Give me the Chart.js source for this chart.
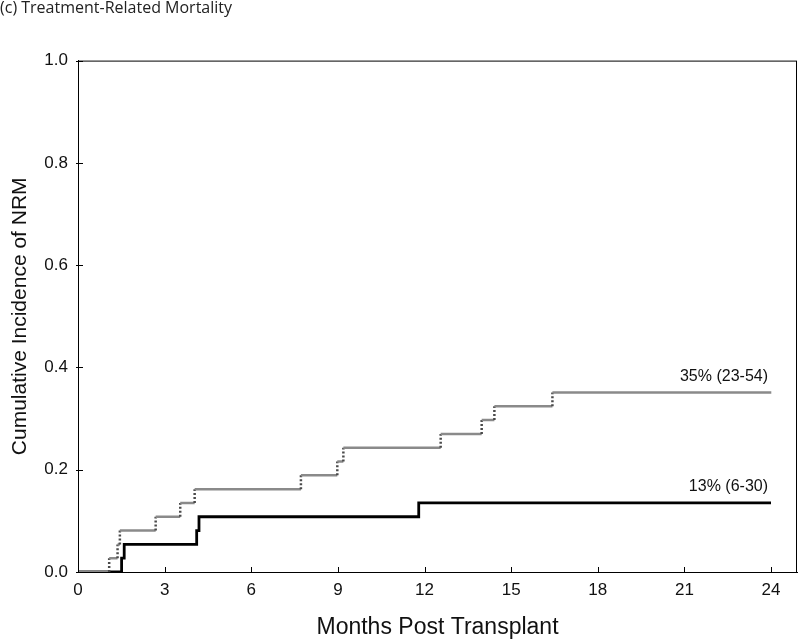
<!DOCTYPE html>
<html lang="en">
<head>
  <meta charset="UTF-8">
  <title>Treatment-Related Mortality</title>
  <script src="https://cdn.jsdelivr.net/npm/chart.js"></script>
  <style>
    body { margin: 0; background: #fff; }
    .chart-container { position: relative; width: 800px; height: 641px; }
  </style>
</head>
<body>
  <div class="chart-container">
    <canvas id="nrmChart"></canvas>
  </div>

  <script>
    // event times (months) and cumulative incidence after each event
    const grayTimes  = [0, 1.08, 1.37, 1.45, 2.69, 3.54, 4.04, 7.72, 8.98, 9.19, 12.56, 13.98, 14.42, 16.43, 24];
    const grayValues = [0, 0.027, 0.054, 0.081, 0.108, 0.135, 0.162, 0.189, 0.216, 0.243, 0.270, 0.297, 0.324, 0.351, 0.351];
    const blackTimes  = [0, 1.51, 1.6, 4.11, 4.19, 11.8, 24];
    const blackValues = [0, 0.027, 0.054, 0.081, 0.108, 0.135, 0.135];
    const endLabels = ['35% (23-54)', '13% (6-30)'];
    const xTicks = [0, 3, 6, 9, 12, 15, 18, 21, 24];
    const yTicks = [0, 0.2, 0.4, 0.6, 0.8, 1.0];

    // turn event lists into step-function points
    function toSteps(times, values) {
      const pts = [{ x: times[0], y: values[0] }];
      for (let i = 1; i < times.length; i++) {
        pts.push({ x: times[i], y: values[i - 1] });
        pts.push({ x: times[i], y: values[i] });
      }
      return pts;
    }

    const isVertical = c => c.p0.parsed.x === c.p1.parsed.x;

    // frame, inward tick marks and end-of-curve labels
    const framePlugin = {
      id: 'frameAndLabels',
      afterDraw(chart) {
        const { ctx, chartArea: a, scales: { x, y } } = chart;
        ctx.save();
        ctx.strokeStyle = '#000';
        ctx.lineWidth = 1;
        ctx.strokeRect(a.left + 0.5, a.top + 0.5, a.right - a.left - 1, a.bottom - a.top);
        ctx.beginPath();
        xTicks.forEach(v => {
          const px = Math.round(x.getPixelForValue(v)) + 0.5;
          ctx.moveTo(px, a.bottom);
          ctx.lineTo(px, a.bottom - 5);
        });
        yTicks.forEach(v => {
          const py = Math.round(y.getPixelForValue(v)) + 0.5;
          ctx.moveTo(a.left - 2, py);
          ctx.lineTo(a.left + 5, py);
        });
        ctx.stroke();

        ctx.fillStyle = '#111';
        ctx.font = '16px "Liberation Sans", Arial, sans-serif';
        ctx.textAlign = 'right';
        ctx.textBaseline = 'middle';
        chart.data.datasets.forEach((ds, i) => {
          const last = ds.data[ds.data.length - 1];
          ctx.fillText(endLabels[i], x.getPixelForValue(last.x) - 3, y.getPixelForValue(last.y) - 16);
        });
        ctx.restore();
      }
    };

    new Chart(document.getElementById('nrmChart'), {
      type: 'line',
      data: {
        datasets: [{
          label: 'Group A',
          data: toSteps(grayTimes, grayValues),
          borderColor: '#8a8a8a',
          borderWidth: 2.5,
          pointRadius: 0,
          segment: {
            borderDash: c => isVertical(c) ? [2, 2] : undefined,
            borderColor: c => isVertical(c) ? '#4a4a4a' : undefined
          }
        }, {
          label: 'Group B',
          data: toSteps(blackTimes, blackValues),
          borderColor: '#000',
          borderWidth: 2.8,
          pointRadius: 0
        }]
      },
      options: {
        responsive: true,
        maintainAspectRatio: false,
        animation: false,
        layout: { padding: { left: 0, right: 3, top: 0, bottom: 0 } },
        plugins: {
          legend: { display: false },
          tooltip: { enabled: false },
          title: {
            display: true,
            text: '(c) Treatment-Related Mortality',
            align: 'start',
            color: '#222',
            font: { family: '"Open Sans", sans-serif', size: 16, weight: 'normal', lineHeight: 1.1 },
            padding: { top: 0, bottom: 43 }
          }
        },
        scales: {
          x: {
            type: 'linear',
            min: 0,
            max: 24.9,
            afterBuildTicks: s => { s.ticks = xTicks.map(v => ({ value: v })); },
            afterFit: s => { s.height = 69; },
            grid: { drawOnChartArea: false, drawTicks: false },
            border: { color: '#000', width: 1 },
            ticks: {
              color: '#111',
              padding: 8,
              maxRotation: 0,
              font: { family: '"Liberation Sans", Arial, sans-serif', size: 17 }
            },
            title: {
              display: true,
              text: 'Months Post Transplant',
              color: '#111',
              padding: 0,
              font: { family: '"Liberation Sans", Arial, sans-serif', size: 23 }
            }
          },
          y: {
            min: 0,
            max: 1,
            afterBuildTicks: s => { s.ticks = yTicks.map(v => ({ value: v })); },
            afterFit: s => { s.width = 78; },
            grid: { drawOnChartArea: false, drawTicks: false },
            border: { color: '#000', width: 1 },
            ticks: {
              color: '#111',
              padding: 10,
              callback: v => v.toFixed(1),
              font: { family: '"Liberation Sans", Arial, sans-serif', size: 17 }
            },
            title: {
              display: true,
              text: 'Cumulative Incidence of NRM',
              color: '#111',
              padding: { top: 8, bottom: 0 },
              font: { family: '"Liberation Sans", Arial, sans-serif', size: 21 }
            }
          }
        }
      },
      plugins: [framePlugin]
    });
  </script>
</body>
</html>
